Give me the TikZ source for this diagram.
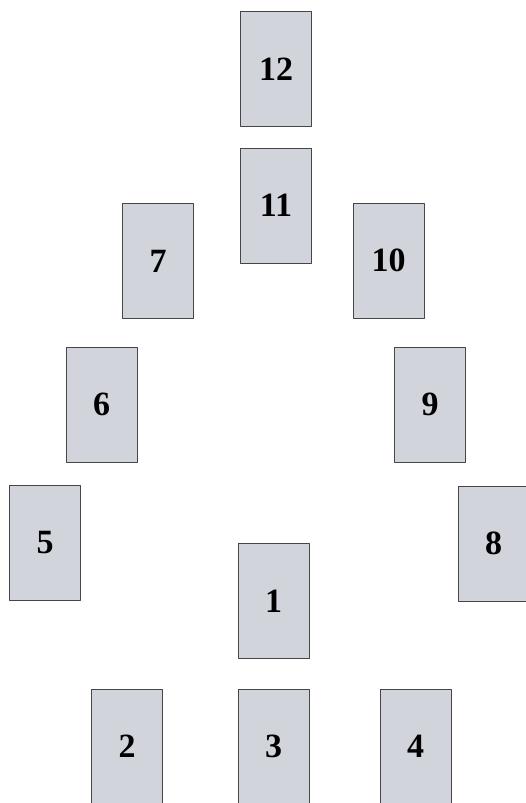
\documentclass[tikz,border=0pt]{standalone}
\usepackage{fontspec}
\setmainfont{Liberation Serif}
\definecolor{cardfill}{RGB}{210,212,220}
\definecolor{cardline}{RGB}{70,70,70}
\begin{document}
\begin{tikzpicture}[x=1pt,y=-1pt,line join=round,
	card/.style={draw=cardline,fill=cardfill,line width=.8pt,inner sep=0pt,
		minimum width=71pt,minimum height=115pt,font=\fontsize{34}{34}\selectfont\bfseries}]
	\useasboundingbox (0,0) rectangle (526,803);
	\foreach \p/\x/\y in{12/276/69,11/276/205.5,7/158/261,10/388.5/260.5,
		6/101.5/404.5,9/430/404.5,5/45/542.5,8/493.5/543.5,
		1/273.5/601,2/127/746.5,3/273.5/746.5,4/415.5/746.5}
	\node[card](c\p) at (\x,\y){\p};
\end{tikzpicture}
\end{document}
